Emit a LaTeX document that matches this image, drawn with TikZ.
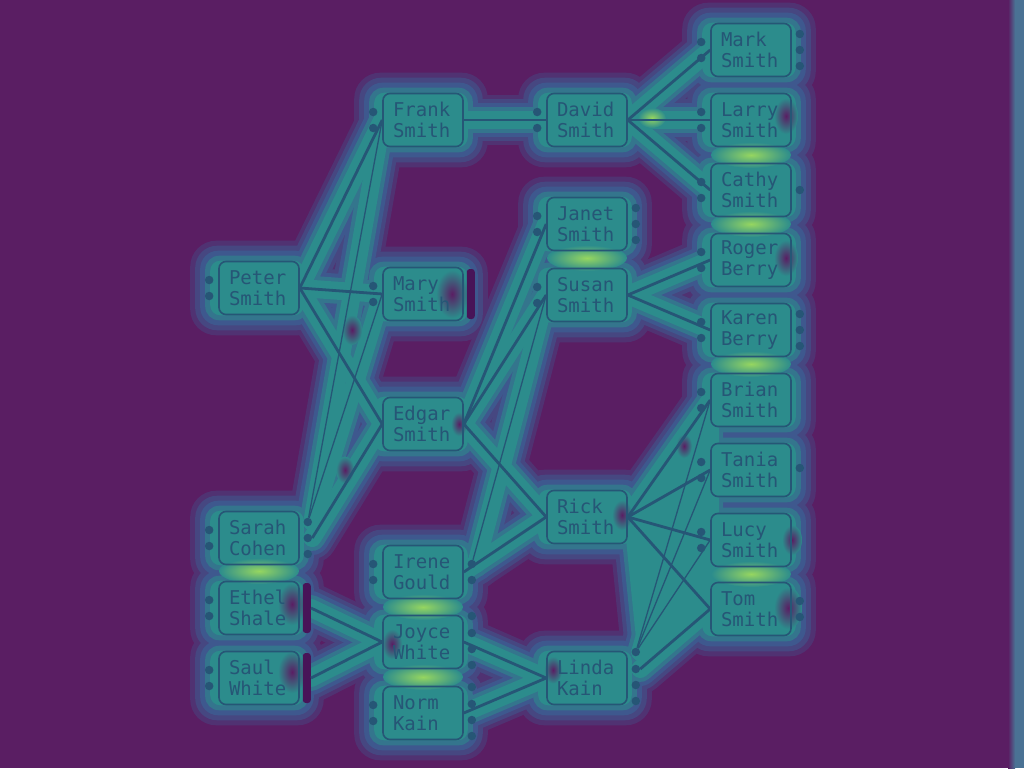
\documentclass[tikz,border=0pt]{standalone}
\usepackage{fontspec}
\setmonofont{DejaVu Sans Mono}
\usepackage{tikz}
\usetikzlibrary{calc,backgrounds}
\definecolor{HMbg}{RGB}{90,30,99}
\definecolor{HMedge}{RGB}{62,88,142}
\definecolor{HMteal}{RGB}{44,140,140}
\definecolor{HMhot}{RGB}{150,214,96}
\definecolor{HMink}{RGB}{38,86,118}
\definecolor{HMdark}{RGB}{72,20,88}
\definecolor{HMstrip}{RGB}{74,114,148}

\begin{document}
\begin{tikzpicture}[x=1pt, y=-1pt,
    person/.style={draw=HMink, line width=1.6pt, rounded corners=7pt, minimum width=80pt, minimum height=53pt,
      text width=60pt, align=left, inner sep=0pt, text=HMink, font=\ttfamily\fontsize{19}{21}\selectfont},
    port/.style={circle, fill=HMink, inner sep=0pt, minimum size=8.5pt},
    bar/.style={fill=HMdark, rounded corners=3pt, inner sep=0pt, minimum width=8pt, minimum height=50pt},
    link/.style={HMink, line width=2.8pt},
    thinlink/.style={HMink, line width=1.3pt},
    heat1/.style={HMedge!35!HMbg, line width=50pt, line cap=round},
    heat2/.style={HMedge!70!HMbg, line width=42pt, line cap=round},
    heat3/.style={HMedge, line width=34pt, line cap=round},
    heat4/.style={HMteal!55!HMedge, line width=26pt, line cap=round},
    heat5/.style={HMteal, line width=18pt, line cap=round},
    hot/.style={inner color=HMhot, outer color=HMteal},
    cold/.style={inner color=HMbg, outer color=HMteal}]
    \useasboundingbox (0,0) rectangle (1024,768);

    % people
    \node[person] (frank) at (423,120) {Frank\\Smith};
    \node[person] (david) at (587,120) {David\\Smith};
    \node[person] (mark)  at (751,50)  {Mark\\Smith};
    \node[person] (larry) at (751,120) {Larry\\Smith};
    \node[person] (cathy) at (751,190) {Cathy\\Smith};
    \node[person] (janet) at (587,224) {Janet\\Smith};
    \node[person] (roger) at (751,260) {Roger\\Berry};
    \node[person] (peter) at (259,288) {Peter\\Smith};
    \node[person] (mary)  at (423,294) {Mary\\Smith};
    \node[person] (susan) at (587,295) {Susan\\Smith};
    \node[person] (karen) at (751,330) {Karen\\Berry};
    \node[person] (edgar) at (423,424) {Edgar\\Smith};
    \node[person] (brian) at (751,400) {Brian\\Smith};
    \node[person] (tania) at (751,470) {Tania\\Smith};
    \node[person] (rick)  at (587,517) {Rick\\Smith};
    \node[person] (lucy)  at (751,540) {Lucy\\Smith};
    \node[person] (sarah) at (259,538) {Sarah\\Cohen};
    \node[person] (irene) at (423,572) {Irene\\Gould};
    \node[person] (ethel) at (259,608) {Ethel\\Shale};
    \node[person] (tom)   at (751,609) {Tom\\Smith};
    \node[person] (joyce) at (423,642) {Joyce\\White};
    \node[person] (saul)  at (259,678) {Saul\\White};
    \node[person] (linda) at (587,678) {Linda\\Kain};
    \node[person] (norm)  at (423,713) {Norm\\Kain};

    % ports
    \foreach \n in {frank,david,mark,larry,cathy,janet,roger,peter,mary,susan,karen,brian,tania,lucy,sarah,irene,ethel,saul,norm} {
      \node[port] (\n-l1) at ($(\n.west)+(-9,-8)$) {};
      \node[port] (\n-l2) at ($(\n.west)+(-9,8)$) {};
    }
    \foreach \n in {mark,janet,karen,sarah} {
      \node[port] (\n-r1) at ($(\n.east)+(8,-16)$) {};
      \node[port] (\n-r2) at ($(\n.east)+(8,0)$) {};
      \node[port] (\n-r3) at ($(\n.east)+(8,16)$) {};
    }
    \foreach \n in {joyce,norm,linda} {
      \node[port] (\n-r1) at ($(\n.east)+(8,-26)$) {};
      \node[port] (\n-r2) at ($(\n.east)+(8,-9)$) {};
      \node[port] (\n-r3) at ($(\n.east)+(8,7)$) {};
      \node[port] (\n-r4) at ($(\n.east)+(8,23)$) {};
    }
    \foreach \n in {tom,irene} {
      \node[port] (\n-r1) at ($(\n.east)+(8,-8)$) {};
      \node[port] (\n-r2) at ($(\n.east)+(8,8)$) {};
    }
    \node[port] (cathy-r1) at ($(cathy.east)+(8,0)$) {};
    \node[port] (tania-r1) at ($(tania.east)+(8,-2)$) {};
    \node[bar] (mary-bar)  at ($(mary.east)+(7,0)$) {};
    \node[bar] (ethel-bar) at ($(ethel.east)+(7,0)$) {};
    \node[bar] (saul-bar)  at ($(saul.east)+(7,0)$) {};

    % links
    \foreach \a/\b in {frank/david,david/mark,david/larry,david/cathy,peter/frank,peter/mary,peter/edgar,
        sarah-r2/edgar,edgar/janet,edgar/susan,edgar/rick,irene/rick,susan/roger,susan/karen,
        rick/brian,rick/tania,rick/lucy,rick/tom,linda-r2/tom,ethel-bar/joyce,saul-bar/joyce,joyce/linda,norm/linda}
      \draw[link] (\a.east) -- (\b.west);
    \foreach \a/\b in {sarah-r1/frank,sarah-r1/mary,irene-r1/susan,linda-r1/brian,linda-r1/tania,linda-r1/lucy}
      \draw[thinlink] (\a) -- (\b.west);

    % heat
    \begin{scope}[on background layer]
      \fill[HMbg] (0,0) rectangle (1024,768);
      \shade[left color=HMbg, right color=HMstrip] (1008,0) rectangle (1015,768);
      \fill[HMstrip] (1015,0) rectangle (1024,768);
      \foreach \s/\d/\r in {heat1/24/26,heat2/19/22,heat3/14/18,heat4/9/14,heat5/4/10} {
        \foreach \n in {frank,david,mark,larry,cathy,janet,roger,peter,mary,susan,karen,edgar,brian,tania,rick,lucy,sarah,irene,ethel,tom,joyce,saul,linda,norm}
          \fill[\s, rounded corners=\r] ($(\n.north west)+(-\d-4,-\d+4)$) rectangle ($(\n.south east)+(\d,\d-4)$);
        \foreach \a/\b in {frank/david,david/mark,david/larry,david/cathy,peter/frank,peter/mary,peter/edgar,
            sarah-r2/edgar,sarah-r1/frank,sarah-r1/mary,edgar/janet,edgar/susan,edgar/rick,irene/rick,irene-r1/susan,
            susan/roger,susan/karen,rick/brian,rick/tania,rick/lucy,rick/tom,linda-r1/brian,linda-r1/tania,linda-r1/lucy,
            linda-r2/tom,ethel-bar/joyce,saul-bar/joyce,joyce/linda,norm/linda}
          \draw[\s] (\a.east) -- (\b.west);
        \draw[\s, line join=round] ($(rick.east)+(6,10)$) -- (brian.west) -- (tom.west) -- ($(linda-r1.center)+(10,-6)$) -- cycle;
      }
      \fill[HMteal] ($(rick.east)+(6,10)$) -- (brian.west) -- (tom.west) -- ($(linda-r1.center)+(10,-6)$) -- cycle;
      \foreach \x/\y in {751/155,751/224,751/364,751/574,587/258,423/607,423/677,259/571}
        \shade[hot] (\x,\y) ellipse [x radius=40, y radius=13];
      \shade[hot] (652,118) ellipse [x radius=14, y radius=10];
      \foreach \x/\y/\r in {452/294/16,292/604/14,292/672/14,788/608/14,786/116/12,786/258/12,622/515/10,
          459/424/8,392/644/10,553/670/9,792/540/10,352/330/10,345/470/9,684/446/8}
        \shade[cold] (\x,\y) ellipse [x radius=\r, y radius=1.5*\r];
    \end{scope}
\end{tikzpicture}
\end{document}
